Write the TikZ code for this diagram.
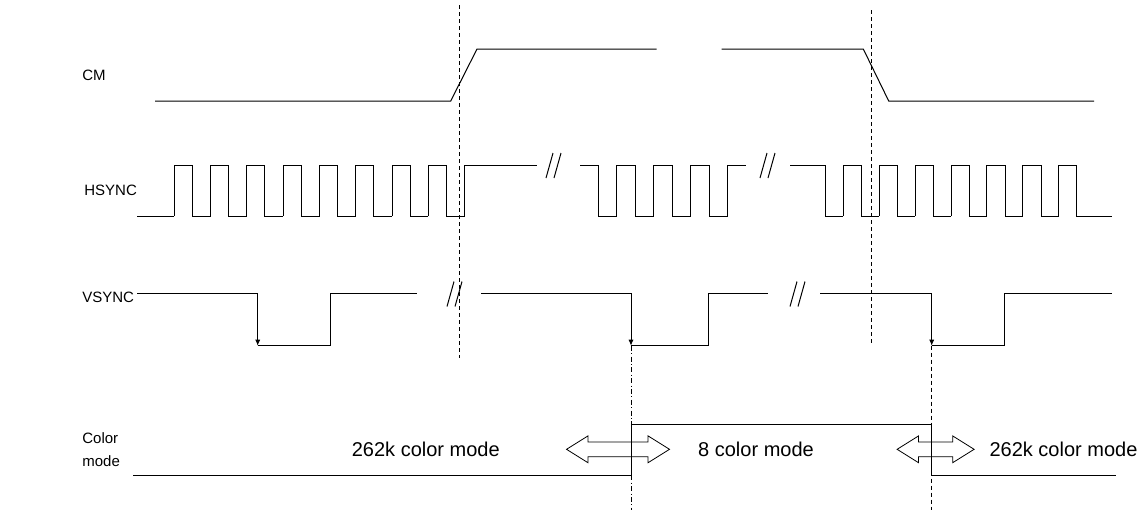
\documentclass[tikz,border=0pt]{standalone}
\usepackage{fontspec}
\setmainfont{Liberation Sans}
\usetikzlibrary{shapes.arrows,arrows.meta,positioning}

\begin{document}
\begin{tikzpicture}[
    x=0.5pt, y=-0.5pt,
    signal/.style={draw=black, line width=0.5pt},
    edge arrow/.style={signal, -{Latex[length=3pt,width=2.6pt]}},
    marker line/.style={draw=black, line width=0.5pt, dash pattern=on 2pt off 1.5pt},
    mode line/.style={draw=black, line width=0.5pt, dash pattern=on 2.5pt off 1.2pt on 0.5pt off 1.2pt},
    siglabel/.style={anchor=west, inner sep=0pt, align=left, font=\fontsize{7.5}{11.5}\selectfont},
    modetext/.style={inner sep=0pt, font=\fontsize{10}{12}\selectfont},
    modearrow/.style={
        double arrow,
        draw=black,
        line width=0.4pt,
        fill=white,
        inner xsep=0pt,
        inner ysep=3.5pt,
        double arrow head extend=3pt,
        double arrow tip angle=64
    },
    brk/.pic={
        \draw[signal] (-8,12.5) -- (-1,-12.5);
        \draw[signal] (0,12.5) -- (7,-12.5);
    }
]
\useasboundingbox (0,0) rectangle (1144,510);

% Signal names
\node [siglabel] (cm) at (82,75) {CM};
\node [siglabel] (hsync) at (84,190) {HSYNC};
\node [siglabel] (vsync) at (82,297) {VSYNC};
\node [siglabel] (colormode) at (82,450) {Color\\mode};

% CM
\draw [signal] (155,101) -- (450.7,101) -- (477,49) -- (656.7,49);
\draw [signal] (721.7,49) -- (863.3,49) -- (888.7,101) -- (1094,101);

% HSYNC, first burst
\draw [signal] (137,216) -- (174.3,216);
\foreach \k [evaluate=\k as \r using 174.3+36.3*\k] in {0,...,7}
    \draw [signal] (\r,216) -- (\r,165) -- (\r+18,165) -- (\r+18,216) -- (\r+36.3,216);
\draw [signal] (464.7,216) -- (464.7,165) -- (536.7,165);
\pic at (554,165.5) {brk};

% HSYNC, middle burst
\draw [signal] (580,165) -- (598.3,165);
\foreach \k [evaluate=\k as \f using 598.3+37*\k] in {0,...,3}
    \draw [signal] (\f,165) -- (\f,216) -- (\f+18.5,216) -- (\f+18.5,165) -- (\f+37,165);
\pic at (768,165.5) {brk};

% HSYNC, last burst
\draw [signal] (790,165) -- (825.7,165) -- (825.7,216) -- (843.3,216);
\foreach \k [evaluate=\k as \r using 843.3+35.9*\k] in {0,...,5}
    \draw [signal] (\r,216) -- (\r,165) -- (\r+18.2,165) -- (\r+18.2,216) -- (\r+35.9,216);
\draw [signal] (1058.7,216) -- (1058.7,165) -- (1076.9,165) -- (1076.9,216) -- (1111.7,216);

% VSYNC
\draw [signal] (137,293.3) -- (257.7,293.3);
\draw [edge arrow] (257.7,293.3) -- (257.7,345.7);
\draw [signal] (257.7,345.7) -- (330.7,345.7) -- (330.7,293.3) -- (416.7,293.3);
\pic at (455,294) {brk};
\draw [signal] (481,293.3) -- (631,293.3);
\draw [edge arrow] (631,293.3) -- (631,345.7);
\draw [signal] (631,345.7) -- (708.7,345.7) -- (708.7,293.3) -- (768.3,293.3);
\pic at (798,294) {brk};
\draw [signal] (820,293.3) -- (931.7,293.3);
\draw [edge arrow] (931.7,293.3) -- (931.7,345.7);
\draw [signal] (931.7,345.7) -- (1004.3,345.7) -- (1004.3,293.3) -- (1111.7,293.3);

% CM switching points
\draw [marker line] (459.3,5) -- (459.3,358);
\draw [marker line] (871.7,10) -- (871.7,345);

% Mode change arrows
\node [modearrow, minimum height=51.5pt] (leftchange) at (618,449.3) {};
\node [modearrow, minimum height=38.5pt] (rightchange) at (935.6,449.3) {};

% Color mode
\draw [signal] (133,475) -- (631,475) -- (631,424) -- (931.7,424) -- (931.7,475) -- (1116,475);
\draw [mode line] (631,345.7) -- (631,510);
\draw [marker line] (931.7,345.7) -- (931.7,510);

\node [modetext] (fullcolor) at (425.8,449.3) {262k color mode};
\node [modetext] (eightcolor) at (756,449.3) {8 color mode};
\node [modetext] (fullcoloragain) at (1063.5,449.3) {262k color mode};

\end{tikzpicture}
\end{document}
